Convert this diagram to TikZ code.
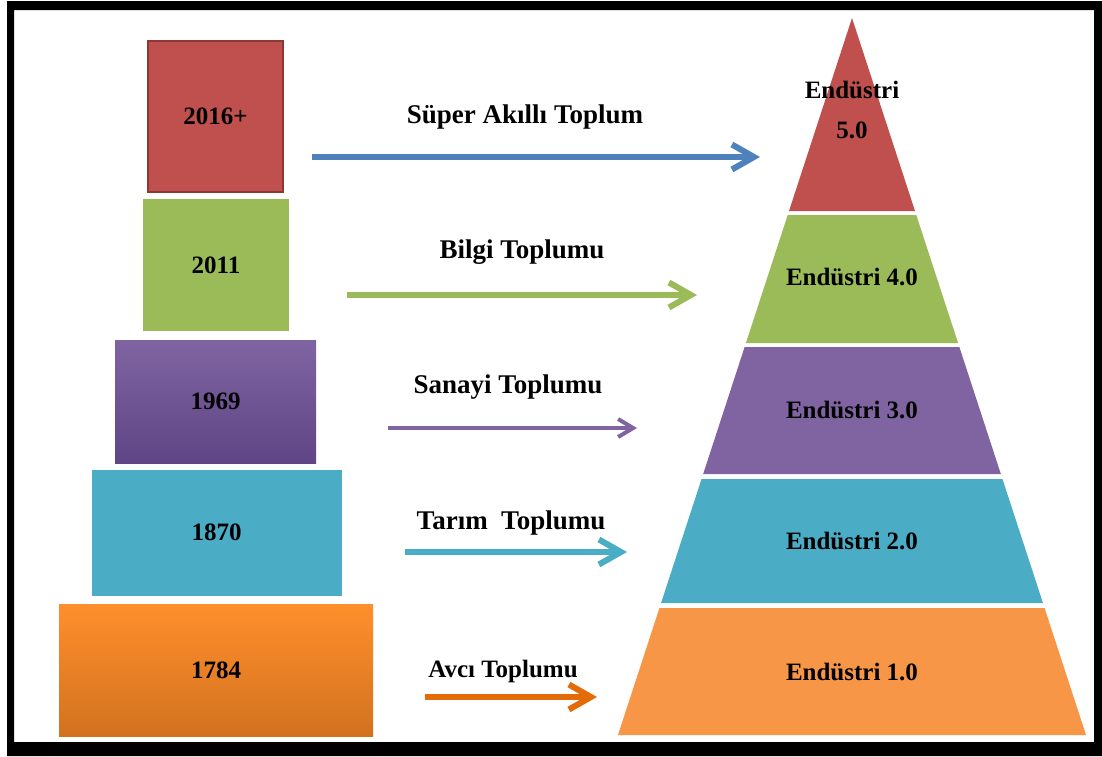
\documentclass[tikz,border=0pt]{standalone}
\usepackage{fontspec}
\setmainfont{Liberation Serif}
\usetikzlibrary{arrows.meta, shadows}
\definecolor{kred}{HTML}{C0504D}
\definecolor{kredline}{HTML}{8C3836}
\definecolor{kgreen}{HTML}{9BBB59}
\definecolor{kpurple}{HTML}{8064A2}
\definecolor{kpurpledark}{HTML}{5F4585}
\definecolor{kteal}{HTML}{4BACC6}
\definecolor{korange}{HTML}{F79646}
\definecolor{korangetop}{HTML}{FF8F2C}
\definecolor{korangebot}{HTML}{D2721F}
\definecolor{kblue}{HTML}{4F81BD}
\definecolor{karrow}{HTML}{E36C09}
\begin{document}
\begin{tikzpicture}[x = 1pt, y = -1pt,
        yearbox/.style = {minimum width = #1, inner sep = 0pt, font = \fontsize{25}{30}\selectfont\bfseries},
        lbl/.style = {inner sep = 0pt, font = \fontsize{25}{30}\selectfont\bfseries},
        arrlbl/.style = {inner sep = 0pt, font = \fontsize{27}{32}\selectfont\bfseries},
        arr/.style = {line width = 6pt, -{Straight Barb[length = 22pt, width = 25pt]}}]
            \useasboundingbox (0,0) rectangle (1102,756);
            \fill[even odd rule] (7,1) rectangle (1102,756) (14,10) rectangle (1094,742);
            \node[yearbox = 135pt, minimum height = 151pt, fill = kred, draw = kredline, line width = 2pt] (y2016) at (215.5,116.5) {2016+};
            \node[yearbox = 146pt, minimum height = 132pt, fill = kgreen] (y2011) at (216,265) {2011};
            \node[yearbox = 201pt, minimum height = 123pt, top color = kpurple, bottom color = kpurpledark] (y1969) at (215.5,401.5) {1969};
            \node[yearbox = 255pt, minimum height = 131pt, fill = kteal, draw = white, line width = 5pt,
                drop shadow = {opacity = 0.3, shadow xshift = 0pt, shadow yshift = -2pt}] (y1870) at (216.5,532.5) {1870};
            \node[yearbox = 314pt, minimum height = 132pt, top color = korangetop, bottom color = korangebot] (y1784) at (216,670) {1784};
            \foreach \ya/\yb/\col in {608/735/korange, 479/603/kteal, 347/474/kpurple, 215/343/kgreen}{
                \pgfmathsetmacro\wa{0.3264*(\ya-18)}
                \pgfmathsetmacro\wb{0.3264*(\yb-18)}
                \fill[\col] ({852-\wa},\ya) -- ({852+\wa},\ya) -- ({852+\wb},\yb) -- ({852-\wb},\yb) -- cycle;
            }
            \fill[kred] (852,18) -- (915,211) -- (789,211) -- cycle;
            \node[lbl, align = center, font = \fontsize{25}{40}\selectfont\bfseries] (e5) at (852,110) {Endüstri\\5.0};
            \node[lbl] (e4) at (852,277) {Endüstri 4.0};
            \node[lbl] (e3) at (852,410) {Endüstri 3.0};
            \node[lbl] (e2) at (852,541) {Endüstri 2.0};
            \node[lbl] (e1) at (852,672) {Endüstri 1.0};
            \coordinate (s5) at (312,157);
            \coordinate (t5) at (760,157);
            \coordinate (s4) at (347,295);
            \coordinate (t4) at (697,295);
            \coordinate (s3) at (388,428);
            \coordinate (t3) at (637,428);
            \coordinate (s2) at (405,552);
            \coordinate (t2) at (627,552);
            \coordinate (s1) at (425,697);
            \coordinate (t1) at (597,697);
            \draw[arr, kblue] (s5) -- (t5);
            \draw[arr, kgreen] (s4) -- (t4);
            \draw[arr, kpurple, line width = 4pt, -{Straight Barb[length = 15pt, width = 18pt]}] (s3) -- (t3);
            \draw[arr, kteal] (s2) -- (t2);
            \draw[arr, karrow] (s1) -- (t1);
            \node[arrlbl] (l5) at (525,117) {Süper Akıllı Toplum};
            \node[arrlbl] (l4) at (522,252) {Bilgi Toplumu};
            \node[arrlbl] (l3) at (508,387) {Sanayi Toplumu};
            \node[arrlbl] (l2) at (511,523) {Tarım\ \ Toplumu};
            \node[lbl] (l1) at (503,671) {Avcı Toplumu};
        \end{tikzpicture}
\end{document}
